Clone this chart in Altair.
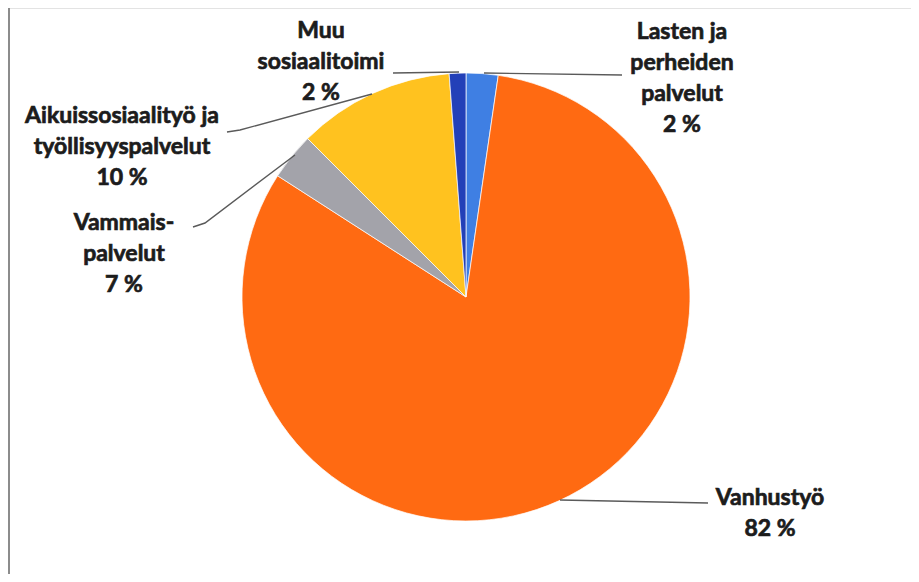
import math
import altair as alt
import pandas as pd

# ---------------- data ----------------
categories = [
    "Lasten ja perheiden palvelut",
    "Vanhustyö",
    "Vammaispalvelut",
    "Aikuissosiaalityö ja työllisyyspalvelut",
    "Muu sosiaalitoimi",
]
slice_share = [2.3, 81.8, 3.4, 11.3, 1.2]          # slice sizes as drawn (%)
pct_labels = ["2 %", "82 %", "7 %", "10 %", "2 %"]  # percentages as printed
label_lines = [
    ["Lasten ja", "perheiden", "palvelut"],
    ["Vanhustyö"],
    ["Vammais-", "palvelut"],
    ["Aikuissosiaalityö ja", "työllisyyspalvelut"],
    ["Muu", "sosiaalitoimi"],
]
colors = ["#3f7fe3", "#ff6a12", "#a3a3aa", "#ffc21f", "#2340b8"]

# ---------------- layout ----------------
W, H, M = 903, 566, 8
CX, CY, R = 466, 297, 224
LINE_H = 31
label_anchor = {  # centre x, first baseline y (page pixels)
    categories[0]: (682, 39),
    categories[1]: (770, 505),
    categories[2]: (124, 230),
    categories[3]: (122, 123),
    categories[4]: (321, 38),
}
leaders = {
    categories[0]: [(622, 75), (484, 73)],
    categories[1]: [(708, 503), (560, 500)],
    categories[2]: [(193, 227), (205, 223), (295, 155)],
    categories[3]: [(227, 132), (240, 130), (372, 94)],
    categories[4]: [(393, 73), (459, 72)],
}

pie_df = pd.DataFrame({
    "cat": categories,
    "share": slice_share,
    "idx": list(range(len(categories))),
})

text_rows = []
for cat, lines, pct in zip(categories, label_lines, pct_labels):
    x0, y0 = label_anchor[cat]
    for k, t in enumerate(lines + [pct]):
        text_rows.append({"x": x0, "y": y0 + k * LINE_H, "t": t})
text_df = pd.DataFrame(text_rows)

line_rows = []
for cat in categories:
    for k, (x, y) in enumerate(leaders[cat]):
        line_rows.append({"lid": cat, "k": k, "x": x, "y": y})
line_df = pd.DataFrame(line_rows)

xs = alt.Scale(domain=[M, M + W], nice=False, zero=False)
ys = alt.Scale(domain=[M, M + H], reverse=True, nice=False, zero=False)

pie = alt.Chart(pie_df).mark_arc(outerRadius=R, stroke="white", strokeWidth=0.7).encode(
    theta=alt.Theta("share:Q", stack=True),
    color=alt.Color("cat:N", scale=alt.Scale(domain=categories, range=colors), legend=None),
    order=alt.Order("idx:Q"),
    x=alt.value(CX - M),
    y=alt.value(CY - M),
)

lines = alt.Chart(line_df).mark_line(color="#5a5a5a", strokeWidth=1.4).encode(
    x=alt.X("x:Q", scale=xs, axis=None),
    y=alt.Y("y:Q", scale=ys, axis=None),
    detail="lid:N",
    order="k:Q",
)

texts = alt.Chart(text_df).mark_text(
    font="Lato", fontWeight="bold", fontSize=23, align="center",
    baseline="alphabetic", color="#1c1c1c", stroke="#1c1c1c", strokeWidth=0.7,
).encode(
    x=alt.X("x:Q", scale=xs, axis=None),
    y=alt.Y("y:Q", scale=ys, axis=None),
    text="t:N",
)

left_edge = alt.Chart(pd.DataFrame({"x": [M + 1]})).mark_rule(color="#8c8c8c", strokeWidth=2).encode(
    x=alt.X("x:Q", scale=xs, axis=None),
)

chart = alt.layer(pie, lines, texts, left_edge).properties(
    width=W, height=H,
    autosize=alt.AutoSizeParams(type="none"),
    padding=0,
).configure_view(stroke="#e3e3e3")

chart.save("out.html", embed_options={"renderer": "svg", "actions": False})
